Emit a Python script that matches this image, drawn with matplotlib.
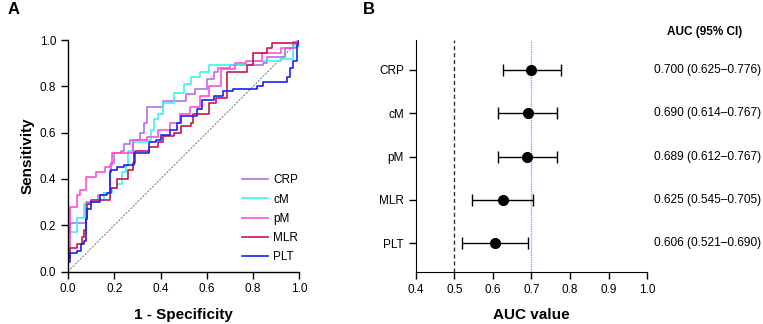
import matplotlib
matplotlib.use("Agg")
import matplotlib.pyplot as plt
import numpy as np

plt.rcParams['font.family'] = ['Liberation Sans', 'DejaVu Sans']

# ---- ROC curve data (1-specificity, sensitivity) ----
crp_fpr = [0, 0, 0.01, 0.07, 0.076, 0.13, 0.155, 0.18, 0.185, 0.20, 0.23, 0.24, 0.27, 0.31, 0.33, 0.34, 0.41, 0.41, 0.50, 0.51, 0.55, 0.60, 0.63, 0.65, 0.70, 0.844, 0.858, 0.937, 0.973, 1.0]
crp_tpr = [0, 0.15, 0.21, 0.21, 0.30, 0.33, 0.34, 0.44, 0.47, 0.51, 0.52, 0.55, 0.57, 0.60, 0.64, 0.71, 0.71, 0.735, 0.737, 0.765, 0.79, 0.83, 0.86, 0.88, 0.89, 0.90, 0.928, 0.964, 0.993, 1.0]

cm_fpr = [0, 0, 0.004, 0.01, 0.04, 0.07, 0.10, 0.127, 0.155, 0.19, 0.21, 0.235, 0.25, 0.26, 0.28, 0.34, 0.36, 0.37, 0.39, 0.41, 0.46, 0.50, 0.53, 0.57, 0.61, 0.75, 0.80, 0.92, 0.97, 1.0]
cm_tpr = [0, 0.08, 0.14, 0.17, 0.23, 0.29, 0.30, 0.31, 0.34, 0.36, 0.38, 0.43, 0.455, 0.52, 0.56, 0.57, 0.61, 0.66, 0.68, 0.73, 0.77, 0.81, 0.84, 0.86, 0.89, 0.89, 0.91, 0.92, 0.97, 1.0]

pm_fpr = [0, 0, 0.01, 0.04, 0.05, 0.076, 0.12, 0.16, 0.18, 0.19, 0.26, 0.28, 0.34, 0.39, 0.44, 0.484, 0.527, 0.57, 0.61, 0.66, 0.72, 0.77, 0.84, 0.92, 0.99, 1.0]
pm_tpr = [0, 0.10, 0.28, 0.33, 0.35, 0.41, 0.43, 0.45, 0.46, 0.51, 0.51, 0.57, 0.58, 0.61, 0.64, 0.68, 0.71, 0.76, 0.80, 0.873, 0.90, 0.91, 0.945, 0.967, 0.995, 1.0]

mlr_fpr = [0, 0, 0.01, 0.04, 0.06, 0.07, 0.076, 0.08, 0.10, 0.18, 0.185, 0.21, 0.26, 0.26, 0.28, 0.29, 0.34, 0.35, 0.39, 0.41, 0.46, 0.49, 0.53, 0.54, 0.60, 0.61, 0.64, 0.685, 0.685, 0.772, 0.80, 0.858, 0.88, 0.995, 1.0]
mlr_tpr = [0, 0.06, 0.10, 0.12, 0.15, 0.18, 0.225, 0.29, 0.31, 0.34, 0.36, 0.40, 0.40, 0.44, 0.47, 0.52, 0.52, 0.54, 0.56, 0.585, 0.60, 0.63, 0.64, 0.68, 0.68, 0.73, 0.75, 0.784, 0.863, 0.892, 0.942, 0.964, 0.985, 0.993, 1.0]

plt_fpr = [0, 0, 0.01, 0.04, 0.055, 0.07, 0.076, 0.08, 0.10, 0.14, 0.17, 0.18, 0.185, 0.21, 0.24, 0.27, 0.285, 0.35, 0.38, 0.40, 0.44, 0.47, 0.49, 0.51, 0.556, 0.58, 0.63, 0.67, 0.714, 0.815, 0.844, 0.945, 0.96, 0.97, 0.99, 1.0]
plt_tpr = [0, 0.04, 0.08, 0.09, 0.12, 0.13, 0.225, 0.27, 0.30, 0.33, 0.34, 0.43, 0.44, 0.45, 0.46, 0.46, 0.51, 0.56, 0.57, 0.59, 0.61, 0.64, 0.67, 0.67, 0.70, 0.74, 0.76, 0.78, 0.79, 0.80, 0.82, 0.84, 0.88, 0.91, 0.98, 1.0]

roc_names = ["CRP", "cM", "pM", "MLR", "PLT"]
roc_colors = ["#B070F0", "#40F0F0", "#FF4FD8", "#C8174A", "#1A22F0"]

# ---- Forest plot data ----
markers = ["CRP", "cM", "pM", "MLR", "PLT"]
auc = [0.700, 0.690, 0.689, 0.625, 0.606]
ci_low = [0.625, 0.614, 0.612, 0.545, 0.521]
ci_high = [0.776, 0.767, 0.767, 0.705, 0.690]

fig = plt.figure(figsize=(7.63, 3.24), dpi=100)

# ---------------- Panel A ----------------
axA = fig.add_axes([0.0891, 0.162, 0.3034, 0.7145])
curves = [(crp_fpr, crp_tpr), (cm_fpr, cm_tpr), (pm_fpr, pm_tpr), (mlr_fpr, mlr_tpr), (plt_fpr, plt_tpr)]
axA.plot([0, 1], [0, 1], color="#707070", lw=0.7, ls=(0, (2, 1.5)))
for (fx, fy), name, col in zip(curves, roc_names, roc_colors):
    axA.plot(fx, fy, color=col, lw=1.2, drawstyle="steps-post", label=name)
axA.set_xlim(0, 1)
axA.set_ylim(0, 1)
axA.set_xticks(np.arange(0, 1.01, 0.2))
axA.set_yticks(np.arange(0, 1.01, 0.2))
axA.xaxis.set_major_formatter(matplotlib.ticker.FormatStrFormatter('%.1f'))
axA.yaxis.set_major_formatter(matplotlib.ticker.FormatStrFormatter('%.1f'))
for s in ["top", "right"]:
    axA.spines[s].set_visible(False)
for s in ["left", "bottom"]:
    axA.spines[s].set_linewidth(1.0)
axA.tick_params(direction="out", length=5, width=1.0, labelsize=8.5)
axA.set_xlabel("1 - Specificity", fontsize=11, fontweight="bold", labelpad=9)
axA.set_ylabel("Sensitivity", fontsize=11, fontweight="bold", labelpad=4)
axA.legend(loc="lower right", bbox_to_anchor=(1.02, 0.012), frameon=False, fontsize=8.5,
           handlelength=2.2, handletextpad=0.45, labelspacing=0.6, borderpad=0)

# ---------------- Panel B ----------------
axB = fig.add_axes([0.5448, 0.1614, 0.3035, 0.7151])
ypos = np.arange(len(markers))[::-1] + 1
axB.axvline(0.5, color="#333333", lw=1.0, ls=(0, (3, 2)), zorder=1)
axB.axvline(0.7, color="#9A9AFF", lw=1.0, ls=(0, (1, 0.7)), zorder=1)
xerr = [np.array(auc) - np.array(ci_low), np.array(ci_high) - np.array(auc)]
axB.errorbar(auc, ypos, xerr=xerr, fmt="o", color="black", ecolor="black",
             elinewidth=1.0, capsize=4, capthick=1.0, markersize=7, zorder=3)
axB.set_xlim(0.4, 1.0)
axB.set_ylim(0.344, 5.69)
axB.set_xticks(np.arange(0.4, 1.001, 0.1))
axB.xaxis.set_major_formatter(matplotlib.ticker.FormatStrFormatter('%.1f'))
axB.set_yticks(ypos)
axB.set_yticklabels(markers)
for s in ["top", "right"]:
    axB.spines[s].set_visible(False)
axB.tick_params(direction="out", length=5, width=1.0, labelsize=8.5)
axB.set_xlabel("AUC value", fontsize=11, fontweight="bold", labelpad=9)

for y, a, lo, hi in zip(ypos, auc, ci_low, ci_high):
    axB.text(1.028, y, f"{a:.3f} ({lo:.3f}\u2013{hi:.3f})", transform=axB.get_yaxis_transform(),
             ha="left", va="center", fontsize=8.6, clip_on=False)
fig.text(705 / 763, 1 - 32 / 324, "AUC (95% CI)", ha="center", va="center",
         fontsize=8.5, fontweight="bold")

fig.text(8 / 763, 1 - 9 / 324, "A", fontsize=12, fontweight="bold", ha="left", va="center")
fig.text(363 / 763, 1 - 9 / 324, "B", fontsize=12, fontweight="bold", ha="left", va="center")

fig.savefig("out.png", dpi=100)
